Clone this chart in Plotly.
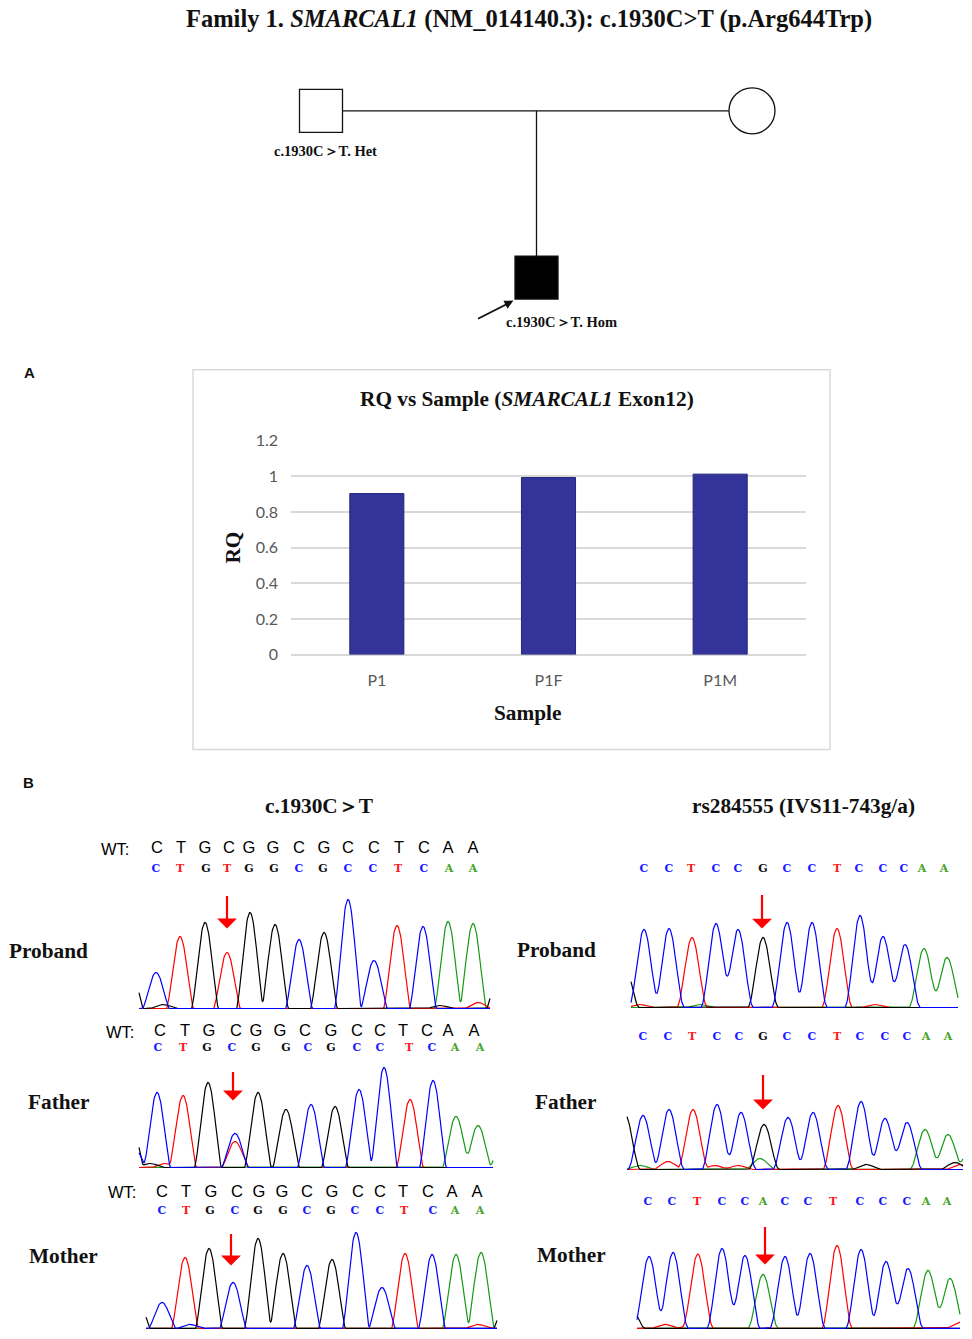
import numpy as np
import plotly.graph_objects as go

W, H = 972, 1339
# vertical calibration of the photographed page (offset, scale)
V_OFF, V_SC = 9.3, 0.986
def PX(x): return x / W
def PY(y): return 1 - ((y - V_OFF) / V_SC) / H
def PY_inv(f): return (1 - f) * H * V_SC + V_OFF

# ---------------- Bar chart data ----------------
SAMPLES = ["P1", "P1F", "P1M"]
RQ = [0.903, 0.993, 1.012]
RQ_TICKS = [0, 0.2, 0.4, 0.6, 0.8, 1.0, 1.2]
RQ_TICKTEXT = ["0", "0.2", "0.4", "0.6", "0.8", "1", "1.2"]

# ---------------- Pedigree data ----------------
PED_NAMES = ["Father", "Mother", "Proband"]
PED_SEX = ["M", "F", "M"]
PED_AFFECTED = [False, False, True]
PED_GEN = [1, 1, 2]
PED_POS = [0.0, 1.0, 0.5]
PED_LABELS = ["c.1930C＞T. Het", "", "c.1930C＞T. Hom"]

# ---------------- Chromatogram data (peak position, height, base) ----------------
LP_X = [156, 180, 205, 227, 250, 275, 299, 324, 348, 374, 397, 423, 448, 473]
LP_H = [36, 72, 86, 56, 96, 84, 69, 76, 109, 48, 83, 82, 87, 85]
LP_B = "CTGTGGCGCCTCAA"
LP_MINOR_X = [130, 163, 440, 478, 500]
LP_MINOR_H = [45, 4, 3, 6, 40]
LP_MINOR_B = "GGGTG"
LP_CALL = "CTGTGGCGCCTCAA"
LP_CALL_X = [156, 180, 206, 227, 249, 274, 299, 323, 348, 373, 398, 424, 449, 473]
LP_WT = "CTGCGGCGCCTCAA"
LP_WT_X = [157, 181, 205, 229, 249, 273, 299, 324, 348, 374, 399, 424, 448, 473]

LF_X = [157, 183, 208, 235, 235, 258, 286, 311, 335, 359, 384, 410, 433, 456, 478]
LF_H = [75, 72, 85, 34, 26, 75, 58, 63, 61, 78, 100, 68, 87, 51, 42]
LF_B = "CTGCTGGCGCCTCAA"
LF_MINOR_X = [130, 133, 150, 165, 503]
LF_MINOR_H = [55, 22, 4, 4, 28]
LF_MINOR_B = "GCGTA"
LF_CALL = "CTGCGGCGCCTCAA"
LF_CALL_X = [158, 183, 207, 232, 256, 286, 308, 331, 357, 380, 409, 432, 455, 480]
LF_WT = "CTGCGGCGCCTCAA"
LF_WT_X = [160, 185, 209, 236, 256, 280, 305, 331, 357, 380, 403, 427, 448, 474]

LM_X = [162, 185, 209, 233, 258, 283, 307, 332, 356, 382, 405, 432, 456, 481]
LM_H = [26, 71, 80, 46, 90, 75, 63, 69, 96, 41, 75, 74, 74, 76]
LM_B = "CTGCGGCGCCTCAA"
LM_MINOR_X = [137, 190, 478, 507]
LM_MINOR_H = [32, 4, 4, 32]
LM_MINOR_B = "GCTG"
LM_CALL = "CTGCGGCGCCTCAA"
LM_CALL_X = [162, 186, 210, 235, 258, 283, 307, 331, 355, 380, 404, 433, 455, 480]
LM_WT = "CTGCGGCGCCTCAA"
LM_WT_X = [162, 186, 211, 237, 259, 282, 307, 332, 358, 380, 403, 428, 452, 477]

RP_X = [644, 669, 692, 716, 738, 763, 787, 812, 837, 860, 883, 905, 924, 947]
RP_H = [78, 79, 70, 84, 78, 70, 85, 85, 79, 92, 71, 63, 59, 50]
RP_B = "CCTCCGCCTCCCAA"
RP_MINOR_X = [624, 640, 700, 875]
RP_MINOR_H = [45, 3, 3, 3]
RP_MINOR_B = "GTAT"
RP_CALL = "CCTCCGCCTCCCAA"
RP_CALL_X = [644, 669, 691, 716, 738, 763, 787, 812, 837, 859, 883, 904, 922, 944]

RF_X = [643, 669, 693, 717, 741, 764, 760, 788, 813, 838, 861, 885, 907, 925, 948]
RF_H = [54, 60, 60, 65, 57, 45, 11, 52, 57, 64, 68, 51, 47, 40, 35]
RF_B = "CCTCCGACCTCCCAA"
RF_MINOR_X = [625, 640, 668, 715, 738, 866, 955, 960, 972]
RF_MINOR_H = [55, 4, 8, 4, 4, 5, 7, 5, 28]
RF_MINOR_B = "GATTTGGTA"
RF_CALL = "CCTCCGCCTCCCAA"
RF_CALL_X = [643, 668, 692, 717, 739, 763, 787, 812, 837, 860, 885, 907, 926, 948]

RM_X = [649, 673, 698, 722, 745, 763, 785, 810, 837, 861, 886, 908, 928, 950]
RM_H = [72, 76, 73, 80, 73, 54, 72, 75, 83, 79, 67, 60, 58, 50]
RM_B = "CCTCCACCTCCCAA"
RM_MINOR_X = [630, 665, 690, 960]
RM_MINOR_H = [22, 4, 3, 6]
RM_MINOR_B = "GTTT"
RM_CALL = "CCTCCACCTCCCAA"
RM_CALL_X = [648, 672, 697, 722, 745, 763, 785, 808, 833, 860, 883, 907, 926, 947]

TRACE_COL = {"C": "#0000ff", "T": "#ff0000", "G": "#000000", "A": "#159a15"}
LETTER_COL = {"C": "#1a1aff", "T": "#ff1a1a", "G": "#111111", "A": "#4aa52a"}

SERIF = "Liberation Serif"
SANS = "Liberation Sans"
LBL = 21.3

fig = go.Figure()
annotations = []
shapes = []

# ---------------- Bar chart ----------------
fig.add_trace(go.Bar(x=SAMPLES, y=RQ, marker=dict(color="#333399", line=dict(color="#25257a", width=1)),
                     xaxis="x", yaxis="y", hoverinfo="skip"))
layout_axes = {}
layout_axes["xaxis"] = dict(domain=[PX(291), PX(806)], type="category", showgrid=False, zeroline=False,
                            showline=False, ticks="", tickfont=dict(family="Lato", size=16, color="#595959"),
                            ticklabelstandoff=14, anchor="y", fixedrange=True)
layout_axes["yaxis"] = dict(domain=[PY(654), PY(440)], range=[0, 1.2], tickvals=RQ_TICKS, ticktext=RQ_TICKTEXT,
                            showgrid=True, gridcolor="#d9d9d9", gridwidth=1.6, zeroline=True,
                            zerolinecolor="#d9d9d9", zerolinewidth=1.6, showline=False, ticks="",
                            tickfont=dict(family="Lato", size=16, color="#595959"),
                            ticklabelstandoff=12, anchor="x", fixedrange=True)
shapes.append(dict(type="rect", xref="paper", yref="paper", x0=PX(193), x1=PX(830), y0=PY(369), y1=PY(749),
                   line=dict(color="#d9d9d9", width=1.5), fillcolor="rgba(0,0,0,0)", layer="below"))

# ---------------- Pedigree ----------------
ped_x_scale = 431.0
ped_y_scale = 166.5
layout_axes["xaxis2"] = dict(domain=[0, 1], range=[-321 / ped_x_scale, (W - 321) / ped_x_scale], visible=False,
                             anchor="y2", fixedrange=True)
layout_axes["yaxis2"] = dict(domain=[PY(330), PY(50)], range=[2 + 53 / ped_y_scale, 1 - 60 / ped_y_scale],
                             visible=False, anchor="x2", fixedrange=True)
father = PED_NAMES.index("Father"); mother = PED_NAMES.index("Mother"); child = PED_NAMES.index("Proband")
fig.add_trace(go.Scatter(x=[PED_POS[father], PED_POS[mother]], y=[PED_GEN[father], PED_GEN[mother]],
                         mode="lines", line=dict(color="#111", width=1.3), xaxis="x2", yaxis="y2", hoverinfo="skip"))
mid = (PED_POS[father] + PED_POS[mother]) / 2
fig.add_trace(go.Scatter(x=[mid, PED_POS[child]], y=[PED_GEN[father], PED_GEN[child]],
                         mode="lines", line=dict(color="#111", width=1.3), xaxis="x2", yaxis="y2", hoverinfo="skip"))
for i in range(len(PED_NAMES)):
    sym = "square" if PED_SEX[i] == "M" else "circle"
    size = 43 if PED_SEX[i] == "M" else 46
    fig.add_trace(go.Scatter(x=[PED_POS[i]], y=[PED_GEN[i]], mode="markers",
                             marker=dict(symbol=sym, size=size, color="#000" if PED_AFFECTED[i] else "#fff",
                                         line=dict(color="#111", width=1.3)),
                             xaxis="x2", yaxis="y2", hoverinfo="skip"))
annotations.append(dict(x=PED_POS[father], y=PED_GEN[father], xref="x2", yref="y2", text="<b>" + PED_LABELS[father] + "</b>",
                        showarrow=False, xshift=4, yshift=-40, font=dict(family=SERIF, size=14.5, color="#111")))
annotations.append(dict(x=PED_POS[child], y=PED_GEN[child], xref="x2", yref="y2", text="<b>" + PED_LABELS[child] + "</b>",
                        showarrow=False, xshift=25, yshift=-44, font=dict(family=SERIF, size=14.5, color="#111")))
annotations.append(dict(x=PED_POS[child] - 23 / ped_x_scale, y=PED_GEN[child] + 23 / ped_y_scale, xref="x2", yref="y2",
                        text="", showarrow=True, ax=-37, ay=19, arrowhead=2, arrowwidth=1.8, arrowsize=1,
                        arrowcolor="#111"))

# ---------------- Chromatograms ----------------
PANELS = [
    dict(px=LP_X, ph=LP_H, pb=LP_B, mx=LP_MINOR_X, mh=LP_MINOR_H, mb=LP_MINOR_B, call=LP_CALL, call_x=LP_CALL_X,
         wt=LP_WT, wt_x=LP_WT_X, x0=139, x1=490, base=1008, wt_y=848, call_y=869, wt_lab=115,
         arrow=(227, 80, 114), halfw=13.5, pw=1.5),
    dict(px=LF_X, ph=LF_H, pb=LF_B, mx=LF_MINOR_X, mh=LF_MINOR_H, mb=LF_MINOR_B, call=LF_CALL, call_x=LF_CALL_X,
         wt=LF_WT, wt_x=LF_WT_X, x0=139, x1=493, base=1167, wt_y=1031, call_y=1048, wt_lab=120,
         arrow=(233, 67, 97), halfw=13.5, pw=1.5),
    dict(px=LM_X, ph=LM_H, pb=LM_B, mx=LM_MINOR_X, mh=LM_MINOR_H, mb=LM_MINOR_B, call=LM_CALL, call_x=LM_CALL_X,
         wt=LM_WT, wt_x=LM_WT_X, x0=146, x1=497, base=1328, wt_y=1192, call_y=1211, wt_lab=122,
         arrow=(231, 63, 96), halfw=13.5, pw=1.5),
    dict(px=RP_X, ph=RP_H, pb=RP_B, mx=RP_MINOR_X, mh=RP_MINOR_H, mb=RP_MINOR_B, call=RP_CALL, call_x=RP_CALL_X,
         wt=None, wt_x=None, x0=631, x1=958, base=1007, wt_y=None, call_y=869, wt_lab=None,
         arrow=(762, 79, 114), halfw=15.5, pw=2.0),
    dict(px=RF_X, ph=RF_H, pb=RF_B, mx=RF_MINOR_X, mh=RF_MINOR_H, mb=RF_MINOR_B, call=RF_CALL, call_x=RF_CALL_X,
         wt=None, wt_x=None, x0=627, x1=963, base=1169, wt_y=None, call_y=1037, wt_lab=None,
         arrow=(763, 60, 96), halfw=15.5, pw=2.0),
    dict(px=RM_X, ph=RM_H, pb=RM_B, mx=RM_MINOR_X, mh=RM_MINOR_H, mb=RM_MINOR_B, call=RM_CALL, call_x=RM_CALL_X,
         wt=None, wt_x=None, x0=637, x1=960, base=1328, wt_y=None, call_y=1202, wt_lab=None,
         arrow=(765, 64, 103), halfw=15.5, pw=2.0),
]

def peak_shape(xs, center, height, halfw, pw):
    d = np.clip(np.abs(xs - center) / halfw, 0, 1)
    return height * np.cos(np.pi * d / 2) ** pw

for k, p in enumerate(PANELS):
    ax_id = 3 + k
    xa_name, ya_name = f"x{ax_id}", f"y{ax_id}"
    xa0, xa1 = p["x0"] - 50, min(p["x1"] + 8, W)
    top_row = p["wt_y"] if p["wt_y"] is not None else p["call_y"]
    dom_top = min(1.0, PY(top_row - 14))
    dom_bot = max(0.0, PY(p["base"] + 4))
    yt, yb = PY_inv(dom_top), PY_inv(dom_bot)
    layout_axes[f"xaxis{ax_id}"] = dict(domain=[PX(xa0), PX(xa1)], range=[xa0, xa1], visible=False,
                                        anchor=ya_name, fixedrange=True)
    layout_axes[f"yaxis{ax_id}"] = dict(domain=[dom_bot, dom_top], range=[p["base"] - yb, p["base"] - yt],
                                        visible=False, anchor=xa_name, fixedrange=True)
    xs = np.arange(p["x0"], p["x1"] + 0.25, 0.5)
    curves = {b: np.zeros_like(xs) for b in "ACGT"}
    for x, h, b in list(zip(p["px"], p["ph"], p["pb"])) + list(zip(p["mx"], p["mh"], p["mb"])):
        curves[b] += peak_shape(xs, x, h, p["halfw"], p["pw"])
    for b in ["A", "T", "G", "C"]:
        fig.add_trace(go.Scatter(x=xs, y=curves[b], mode="lines", line=dict(color=TRACE_COL[b], width=1.2),
                                 xaxis=xa_name, yaxis=ya_name, hoverinfo="skip", cliponaxis=False))
    fig.add_trace(go.Scatter(x=p["call_x"], y=[p["base"] - p["call_y"]] * len(p["call"]), mode="text",
                             text=["<b>" + c + "</b>" for c in p["call"]],
                             textfont=dict(family="DejaVu Serif", size=11, color=[LETTER_COL[c] for c in p["call"]]),
                             xaxis=xa_name, yaxis=ya_name, hoverinfo="skip"))
    if p["wt"] is not None:
        fig.add_trace(go.Scatter(x=p["wt_x"], y=[p["base"] - p["wt_y"]] * len(p["wt"]), mode="text",
                                 text=list(p["wt"]), textfont=dict(family=SANS, size=16.5, color="#000"),
                                 xaxis=xa_name, yaxis=ya_name, hoverinfo="skip"))
        annotations.append(dict(x=p["wt_lab"], y=p["base"] - p["wt_y"], xref=xa_name, yref=ya_name, text="WT:",
                                showarrow=False, font=dict(family=SANS, size=16.5, color="#000")))
    axx, tip, tail = p["arrow"]
    annotations.append(dict(x=axx, y=tip, xref=xa_name, yref=ya_name, ax=axx, ay=tail, axref=xa_name, ayref=ya_name,
                            text="", showarrow=True, arrowhead=1, arrowwidth=2.2, arrowsize=1.5, arrowcolor="#ff0000"))

# ---------------- Text labels ----------------
def txt(x, y, s, size, family=SERIF, angle=0, color="#111"):
    annotations.append(dict(x=PX(x), y=PY(y), xref="paper", yref="paper", text=s, showarrow=False,
                            xanchor="center", yanchor="middle", textangle=angle,
                            font=dict(family=family, size=size, color=color)))

txt(529, 18, "<b>Family 1. <i>SMARCAL1</i> (NM_014140.3): c.1930C&gt;T (p.Arg644Trp)</b>", 24.5)
txt(29, 372, "<b>A</b>", 15, family=SANS)
txt(28, 782, "<b>B</b>", 15, family=SANS)
txt(527, 398, "<b>RQ vs Sample (<i>SMARCAL1</i> Exon12)</b>", LBL)
txt(233, 547, "<b>RQ</b>", LBL, angle=-90)
txt(527, 712, "<b>Sample</b>", LBL)
txt(319, 805, "<b>c.1930C＞T</b>", LBL)
txt(803, 805, "<b>rs284555 (IVS11-743g/a)</b>", LBL)
for (x, y, s) in [(48, 950, "Proband"), (59, 1102, "Father"), (63, 1256, "Mother"),
                  (556, 949, "Proband"), (566, 1102, "Father"), (571, 1255, "Mother")]:
    txt(x, y, "<b>" + s + "</b>", LBL)

fig.update_layout(width=W, height=H, margin=dict(l=0, r=0, t=0, b=0), paper_bgcolor="white",
                  plot_bgcolor="rgba(0,0,0,0)", showlegend=False, bargap=0.685,
                  annotations=annotations, shapes=shapes, **layout_axes)
fig.write_html("out.html", config={"displayModeBar": False},
               post_script="document.body.style.margin='0';document.body.style.padding='0';"
                           "document.documentElement.style.overflow='hidden';")
